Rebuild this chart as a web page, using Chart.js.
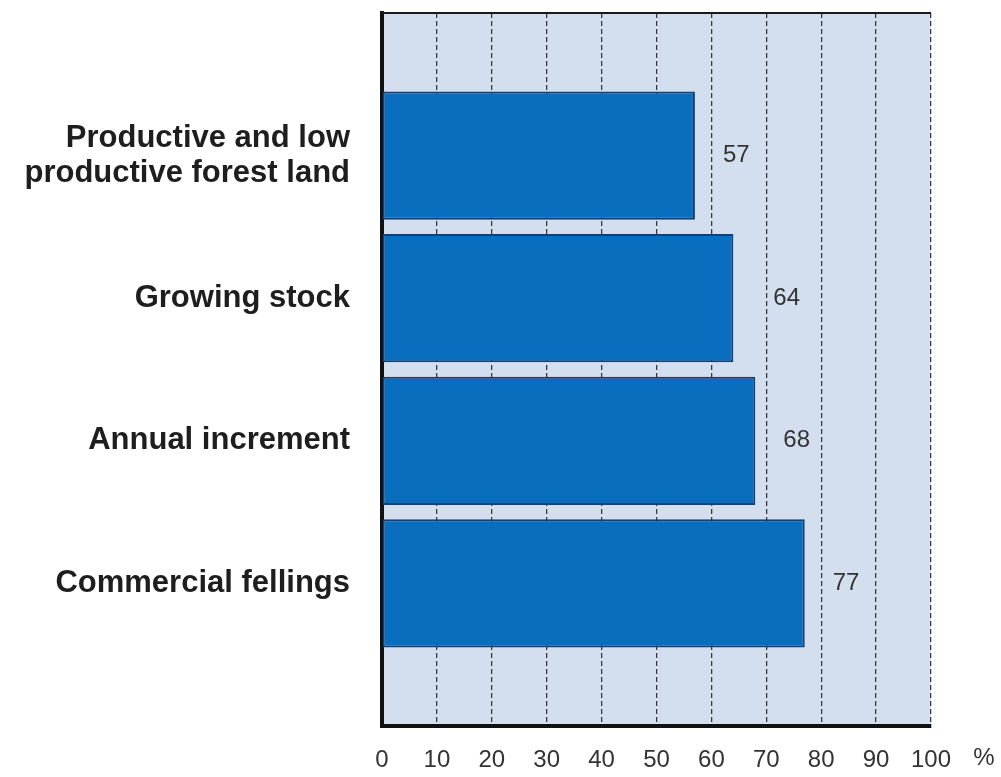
<!DOCTYPE html>
<html>
<head>
<meta charset="utf-8">
<script src="https://cdn.jsdelivr.net/npm/chart.js@4.4.0/dist/chart.umd.min.js"></script>
<style>
  html, body { margin: 0; padding: 0; background: #ffffff; }
  #wrap { width: 1001px; height: 777px; position: relative; }
</style>
</head>
<body>
<div id="wrap"><canvas id="c" width="1001" height="777"></canvas></div>
<script>
const categories = [
  ['Productive and low', 'productive forest land'],
  'Growing stock',
  'Annual increment',
  'Commercial fellings'
];
const values = [57, 64, 68, 77];
const xTicks = [0, 10, 20, 30, 40, 50, 60, 70, 80, 90, 100];
const unitLabel = '%';

const numFont = "'Liberation Sans', Arial, sans-serif";

const plotDecor = {
  id: 'plotDecor',
  beforeDraw(chart) {
    const {ctx, chartArea: a} = chart;
    ctx.save();
    ctx.fillStyle = '#d3dfee';
    ctx.fillRect(a.left, a.top, a.right - a.left, a.bottom - a.top);
    ctx.restore();
  },
  afterDatasetsDraw(chart) {
    const {ctx, chartArea: a} = chart;
    const xs = chart.scales.x;
    const gridPx = xTicks.map(v => xs.getPixelForValue(v));
    const meta = chart.getDatasetMeta(0);
    ctx.save();
    ctx.font = "24px " + numFont;
    ctx.fillStyle = '#333333';
    ctx.textAlign = 'left';
    ctx.textBaseline = 'middle';
    meta.data.forEach((el, i) => {
      const txt = String(values[i]);
      const w = ctx.measureText(txt).width;
      let x = el.x + 28;
      gridPx.forEach(g => {
        if (g > x - 3 && g < x + w + 3) x = g + 7;
      });
      ctx.fillText(txt, x, el.y);
    });
    ctx.strokeStyle = '#1a1a1a';
    ctx.lineWidth = 2;
    ctx.beginPath();
    ctx.moveTo(a.left, a.top);
    ctx.lineTo(a.right, a.top);
    ctx.stroke();
    ctx.restore();
  },
  afterDraw(chart) {
    const {ctx} = chart;
    const xs = chart.scales.x;
    ctx.save();
    ctx.font = "24px " + numFont;
    ctx.fillStyle = '#333333';
    ctx.textAlign = 'center';
    ctx.textBaseline = 'middle';
    ctx.fillText(unitLabel, xs.getPixelForValue(100) + 53, 758);
    ctx.restore();
  }
};

new Chart(document.getElementById('c'), {
  type: 'bar',
  data: {
    datasets: [{
      data: values.map((v, i) => ({x: v, y: i})),
      backgroundColor: '#0a6ebf',
      borderColor: '#143f72',
      borderWidth: 2,
      borderSkipped: false,
      barPercentage: 0.9,
      categoryPercentage: 1.0
    }]
  },
  options: {
    indexAxis: 'y',
    responsive: false,
    animation: false,
    devicePixelRatio: 1,
    layout: { padding: { top: 13, right: 70, bottom: 0, left: 0 } },
    plugins: { legend: { display: false }, tooltip: { enabled: false } },
    scales: {
      x: {
        type: 'linear',
        min: 0,
        max: 100,
        offset: false,
        afterBuildTicks(scale) { scale.ticks = xTicks.map(v => ({value: v})); },
        afterFit(scale) { scale.height = 51; scale.paddingLeft = 0; scale.paddingRight = 0; },
        grid: {
          color: '#3a3a3a',
          lineWidth: 1.3,
          drawTicks: false,
          offset: false
        },
        border: { display: true, color: '#111111', width: 4, dash: [5, 3] },
        ticks: {
          padding: 20,
          color: '#333333',
          font: { family: numFont, size: 24 },
          maxRotation: 0,
          autoSkip: false
        }
      },
      y: {
        type: 'linear',
        min: -1,
        max: 4,
        reverse: true,
        offset: false,
        z: 1,
        afterBuildTicks(scale) {
          const t = [{value: -1}];
          categories.forEach((c, i) => t.push({value: i}));
          t.push({value: 4});
          scale.ticks = t;
        },
        afterFit(scale) { scale.width = 382; scale.paddingTop = 0; scale.paddingBottom = 0; },
        grid: { display: false, drawTicks: false, offset: false },
        border: { display: true, color: '#111111', width: 4 },
        ticks: {
          padding: 32,
          color: '#1e1e1e',
          autoSkip: false,
          font: { family: "'Liberation Sans', Arial, sans-serif", size: 31, weight: 'bold', lineHeight: 1.13 },
          callback: (v) => categories[v] !== undefined ? categories[v] : ''
        }
      }
    }
  },
  plugins: [plotDecor]
});
</script>
</body>
</html>
